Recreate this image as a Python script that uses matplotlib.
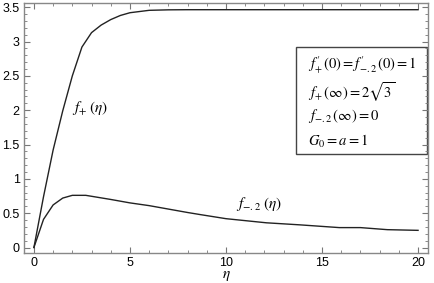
import matplotlib.pyplot as plt
import numpy as np
from matplotlib.patches import Rectangle
from matplotlib.ticker import MultipleLocator

plt.rcParams['mathtext.fontset'] = 'stix'
plt.rcParams['font.family'] = 'Liberation Sans'

# values
eta_plus = [0, 0.5, 1.0, 1.5, 2.0, 2.5, 3.0, 3.5, 4.0, 4.5, 5.0, 6.0, 7.0, 8.0, 10.0, 12.0, 14.0, 16.0, 18.0, 20.0]
f_plus = [0, 0.74, 1.42, 1.99, 2.50, 2.92, 3.13, 3.24, 3.32, 3.38, 3.42, 3.455, 3.462, 3.464, 3.464, 3.464, 3.464, 3.464, 3.464, 3.464]

eta_m2 = [0, 0.5, 1.0, 1.5, 2.0, 2.7, 4.0, 5.0, 6.0, 7.0, 8.0, 8.65, 10.0, 12.1, 13.85, 15.9, 17.0, 18.4, 20.0]
f_m2 = [0, 0.41, 0.62, 0.72, 0.76, 0.76, 0.70, 0.65, 0.61, 0.56, 0.51, 0.48, 0.42, 0.36, 0.33, 0.29, 0.29, 0.26, 0.25]

box_lines = [r"$f^{\prime}_{+}\,(0) = f^{\prime}_{{-}.2}\,(0) = 1$",
             r"$f_{+}\,(\infty) = 2\sqrt{3}$",
             r"$f_{{-}.2}\,(\infty) = 0$",
             r"$G_0 = a = 1$"]

fig = plt.figure(figsize=(4.35, 2.83), dpi=100)
ax = fig.add_axes([0.055, 0.106, 0.929, 0.883])

ax.plot(eta_plus, f_plus, color='#222222', lw=1.0)
ax.plot(eta_m2, f_m2, color='#222222', lw=1.0)

ax.set_xlim(-0.52, 20.52)
ax.set_ylim(-0.08, 3.56)
ax.xaxis.set_major_locator(MultipleLocator(5))
ax.xaxis.set_minor_locator(MultipleLocator(1))
ax.yaxis.set_minor_locator(MultipleLocator(0.1))
ax.set_yticks([0, 0.5, 1, 1.5, 2, 2.5, 3, 3.5])
ax.set_yticklabels(['0', '0.5', '1', '1.5', '2', '2.5', '3', '3.5'])
ax.tick_params(which='both', direction='in', top=True, right=True,
               color='#777777', labelsize=9, pad=3)
ax.tick_params(which='major', length=4, width=0.8)
ax.tick_params(which='minor', length=2, width=0.6)
for s in ax.spines.values():
    s.set_color('#888888')
    s.set_linewidth(1.0)

ax.set_xlabel(r'$\eta$', fontsize=11, labelpad=0)

ax.text(2.0, 2.03, r'$f_{+}\;(\eta)$', fontsize=11, va='center')
ax.text(10.5, 0.64, r'$f_{{-}.2}\;(\eta)$', fontsize=11, va='center')

ax.add_patch(Rectangle((0.673, 0.396), 0.325, 0.428, transform=ax.transAxes,
                       fill=False, edgecolor='#444444', lw=1.0))
for txt, y in zip(box_lines, [0.752, 0.644, 0.548, 0.448]):
    ax.text(0.703, y, txt, transform=ax.transAxes, fontsize=10.5, va='center')

fig.savefig('out.png', dpi=100)
